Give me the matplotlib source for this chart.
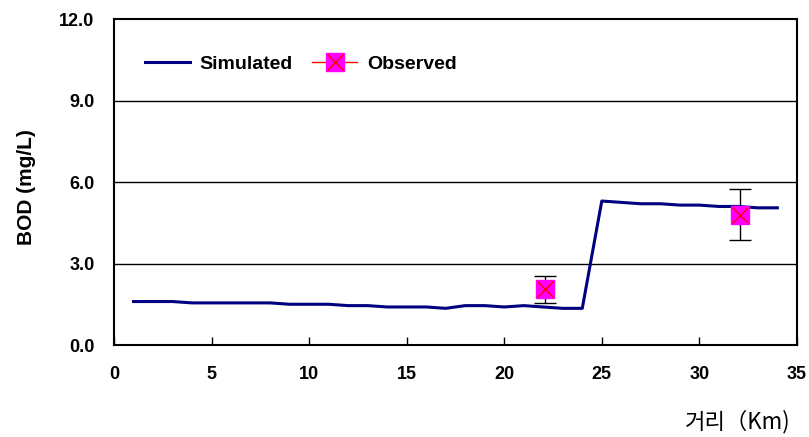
import matplotlib
matplotlib.use("Agg")
import matplotlib.pyplot as plt
from matplotlib.lines import Line2D

sim_x = list(range(1, 35))
sim_y = [1.6, 1.6, 1.6, 1.55, 1.55, 1.55, 1.55, 1.55, 1.5, 1.5, 1.5, 1.45,
         1.45, 1.4, 1.4, 1.4, 1.35, 1.45, 1.45, 1.4, 1.45, 1.4, 1.35, 1.35,
         5.3, 5.25, 5.2, 5.2, 5.15, 5.15, 5.1, 5.1, 5.05, 5.05]
obs_x = [22.1, 32.1]
obs_y = [2.05, 4.8]
obs_err = [0.5, 0.95]
xticks = [0, 5, 10, 15, 20, 25, 30, 35]
yticks = [0.0, 3.0, 6.0, 9.0, 12.0]

plt.rcParams['font.family'] = ['Liberation Sans', 'DejaVu Sans']

fig = plt.figure(figsize=(8.09, 4.37), dpi=100)
ax = fig.add_axes([0.141, 0.2105, 0.844, 0.746])

for yv in yticks[1:-1]:
    ax.axhline(yv, color='black', lw=1.0, zorder=1)

ax.plot(sim_x, sim_y, color='#000080', lw=2.2, zorder=3)
ax.errorbar(obs_x, obs_y, yerr=obs_err, fmt='none', ecolor='black',
            elinewidth=1.0, capsize=8, capthick=1.0, zorder=4)
ax.plot(obs_x, obs_y, linestyle='none', marker='s', markersize=13,
        markerfacecolor='#FF00FF', markeredgecolor='#FF00FF', zorder=5)
ax.plot(obs_x, obs_y, linestyle='none', marker='x', markersize=12,
        color='red', mew=1.0, zorder=6)

ax.set_xlim(0, 35)
ax.set_ylim(0, 12)
ax.set_xticks(xticks)
ax.set_yticks(yticks)
ax.set_xticklabels([str(v) for v in xticks], fontsize=13, fontweight='bold')
ax.set_yticklabels([f"{v:.1f}" for v in yticks], fontsize=13, fontweight='bold')
ax.tick_params(axis='x', direction='in', length=6, width=1, pad=15)
ax.tick_params(axis='y', length=0, pad=14)
for s in ax.spines.values():
    s.set_linewidth(1.5)
    s.set_color('black')

ax.set_ylabel('BOD (mg/L)', fontsize=15, fontweight='bold')
ax.yaxis.set_label_coords(-0.115, 0.483)
fig.text(0.977, 0.008, '거리（Km)', ha='right', va='bottom', fontsize=16,
         family=['Noto Sans CJK KR', 'DejaVu Sans'])

h1 = Line2D([], [], color='#000080', lw=2.2)
h2 = Line2D([], [], color='red', lw=1.0, marker='s', markersize=13,
            markerfacecolor='#FF00FF', markeredgecolor='#FF00FF')
h3 = Line2D([], [], linestyle='none', marker='x', markersize=12, color='red', mew=1.0)
leg = ax.legend([h1, (h2, h3)], ['Simulated', 'Observed'], loc='upper left',
                bbox_to_anchor=(0.02, 0.943), ncol=2, frameon=False,
                prop={'weight': 'bold', 'size': 14}, handlelength=2.3,
                columnspacing=1.0, handletextpad=0.5)

fig.savefig('out.png', dpi=100)
